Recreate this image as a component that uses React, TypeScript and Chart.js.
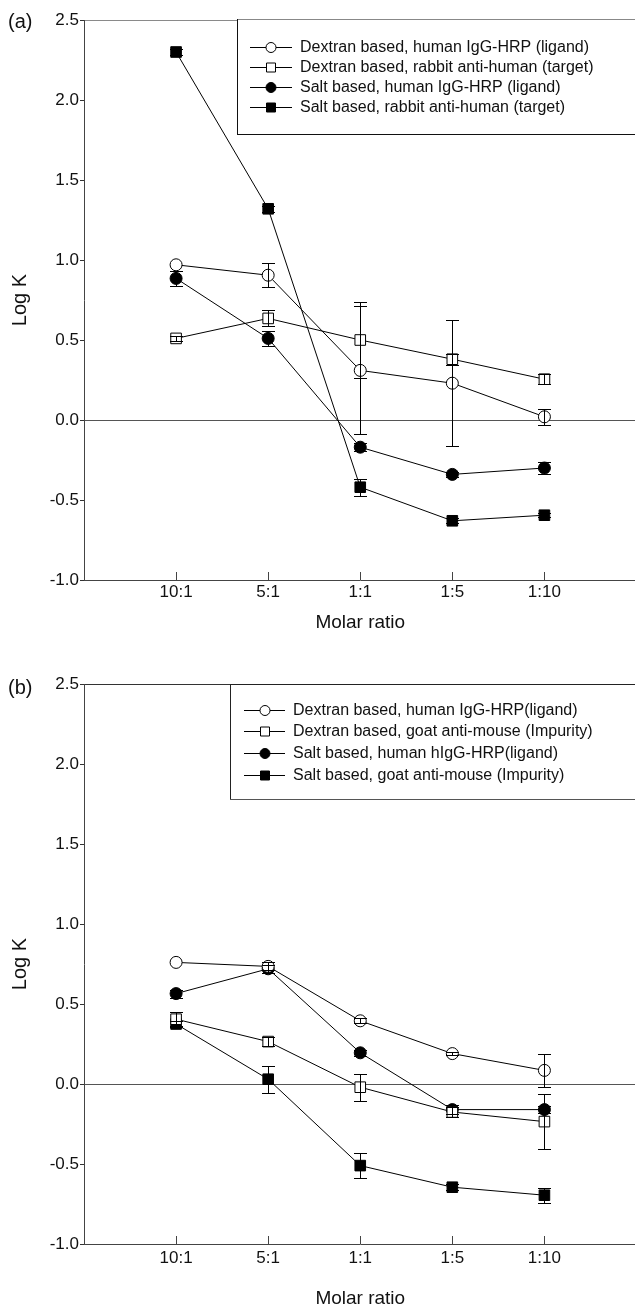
import React, { useEffect, useRef } from 'react';
import { Chart, registerables } from 'chart.js';

Chart.register(...registerables);

// ---------- data ----------
const categories = ['10:1', '5:1', '1:1', '1:5', '1:10'];
const yMin = -1.0;
const yMax = 2.5;
const yStep = 0.5;

// Panel (a)
const labelsA = [
  'Dextran based, human IgG-HRP (ligand)',
  'Dextran based, rabbit anti-human (target)',
  'Salt based, human IgG-HRP (ligand)',
  'Salt based, rabbit anti-human (target)',
];
const dexHumanA = [0.97, 0.905, 0.31, 0.23, 0.02];
const dexHumanAErr = [0, 0.075, 0.4, 0.395, 0.05];
const dexRabbitA = [0.51, 0.635, 0.5, 0.38, 0.255];
const dexRabbitAErr = [0.015, 0.05, 0.24, 0.035, 0.03];
const saltHumanA = [0.885, 0.51, -0.17, -0.34, -0.3];
const saltHumanAErr = [0.048, 0.047, 0.025, 0.015, 0.036];
const saltRabbitA = [2.3, 1.32, -0.42, -0.63, -0.595];
const saltRabbitAErr = [0.02, 0.02, 0.052, 0.015, 0.012];

// Panel (b)
const labelsB = [
  'Dextran based, human IgG-HRP(ligand)',
  'Dextran based, goat anti-mouse (Impurity)',
  'Salt based, human hIgG-HRP(ligand)',
  'Salt based, goat anti-mouse (Impurity)',
];
const dexHumanB = [0.76, 0.735, 0.395, 0.19, 0.085];
const dexHumanBErr = [0, 0.025, 0.015, 0.01, 0.105];
const dexGoatB = [0.405, 0.265, -0.02, -0.175, -0.235];
const dexGoatBErr = [0.045, 0.03, 0.085, 0.03, 0.173];
const saltHumanB = [0.565, 0.72, 0.195, -0.16, -0.16];
const saltHumanBErr = [0.025, 0.025, 0.02, 0.03, 0.02];
const saltGoatB = [0.375, 0.03, -0.51, -0.645, -0.695];
const saltGoatBErr = [0.02, 0.085, 0.08, 0.02, 0.048];

const FONT = '"Liberation Sans", Arial, Helvetica, sans-serif';
const CANVAS_W = 645;

// ---------- plugins ----------
const errorBarPlugin = {
  id: 'errorBars',
  afterDatasetsDraw(chart: any) {
    const { ctx } = chart;
    const xs = chart.scales.x;
    const ys = chart.scales.y;
    ctx.save();
    ctx.strokeStyle = '#000';
    ctx.lineWidth = 1;
    chart.data.datasets.forEach((ds: any) => {
      const errs: number[] = ds.errors;
      if (!errs) return;
      ds.data.forEach((pt: any, i: number) => {
        const e = errs[i];
        if (!e) return;
        const px = Math.round(xs.getPixelForValue(pt.x)) + 0.5;
        const yt = Math.round(ys.getPixelForValue(pt.y + e)) + 0.5;
        const yb = Math.round(ys.getPixelForValue(pt.y - e)) + 0.5;
        const hw = 6.5;
        ctx.beginPath();
        ctx.moveTo(px, yt);
        ctx.lineTo(px, yb);
        ctx.moveTo(px - hw, yt);
        ctx.lineTo(px + hw, yt);
        ctx.moveTo(px - hw, yb);
        ctx.lineTo(px + hw, yb);
        ctx.stroke();
      });
    });
    ctx.restore();
  },
};

const innerTicksPlugin = {
  id: 'innerTicks',
  afterDraw(chart: any) {
    const { ctx, chartArea } = chart;
    const xs = chart.scales.x;
    ctx.save();
    ctx.strokeStyle = '#444';
    ctx.lineWidth = 1;
    xs.ticks.forEach((t: any) => {
      const px = Math.round(xs.getPixelForValue(t.value)) + 0.5;
      ctx.beginPath();
      ctx.moveTo(px, chartArea.bottom);
      ctx.lineTo(px, chartArea.bottom - 8);
      ctx.stroke();
    });
    ctx.restore();
  },
};

const boxLegendPlugin = {
  id: 'boxLegend',
  afterDraw(chart: any, _args: any, opts: any) {
    if (!opts || !opts.rows) return;
    const { ctx } = chart;
    ctx.save();
    const { left, top, right, bottom } = opts;
    ctx.fillStyle = '#fff';
    ctx.fillRect(left, top, right - left, bottom - top);
    ctx.lineWidth = 1;
    ctx.strokeStyle = opts.topColor;
    ctx.beginPath();
    ctx.moveTo(left, top + 0.5);
    ctx.lineTo(right, top + 0.5);
    ctx.stroke();
    ctx.strokeStyle = opts.sideColor;
    ctx.beginPath();
    ctx.moveTo(left + 0.5, top);
    ctx.lineTo(left + 0.5, bottom + 0.5);
    ctx.stroke();
    ctx.strokeStyle = opts.bottomColor;
    ctx.beginPath();
    ctx.moveTo(left, bottom + 0.5);
    ctx.lineTo(right, bottom + 0.5);
    ctx.stroke();

    chart.data.datasets.forEach((ds: any, i: number) => {
      const y = opts.rows[i];
      const yy = Math.round(y) + 0.5;
      ctx.strokeStyle = '#000';
      ctx.beginPath();
      ctx.moveTo(opts.lineX0, yy);
      ctx.lineTo(opts.lineX1, yy);
      ctx.stroke();
      const mx = opts.markerX;
      ctx.fillStyle = ds.pointBackgroundColor;
      ctx.beginPath();
      if (ds.pointStyle === 'circle') {
        ctx.arc(mx, yy, 5, 0, Math.PI * 2);
      } else {
        ctx.rect(mx - 4.5, yy - 4.5, 9, 9);
      }
      ctx.fill();
      ctx.stroke();
      ctx.fillStyle = '#111';
      ctx.font = `16px ${FONT}`;
      ctx.textBaseline = 'middle';
      ctx.textAlign = 'left';
      ctx.fillText(ds.label, opts.textX, y + 1);
    });
    ctx.restore();
  },
};

const panelLabelPlugin = {
  id: 'panelLabel',
  afterDraw(chart: any, _args: any, opts: any) {
    if (!opts || !opts.text) return;
    const { ctx } = chart;
    ctx.save();
    ctx.fillStyle = '#111';
    ctx.font = `20px ${FONT}`;
    ctx.textBaseline = 'middle';
    ctx.textAlign = 'left';
    ctx.fillText(opts.text, opts.x, opts.y);
    ctx.restore();
  },
};

// ---------- config ----------
function makeDatasets(series: number[][], errors: number[][], labels: string[]) {
  const styles = [
    { pointStyle: 'circle', r: 6, fill: '#ffffff' },
    { pointStyle: 'rect', r: 7.5, fill: '#ffffff' },
    { pointStyle: 'circle', r: 6, fill: '#000000' },
    { pointStyle: 'rect', r: 7.5, fill: '#000000' },
  ];
  return series.map((vals, si) => ({
    label: labels[si],
    data: vals.map((v, i) => ({ x: i + 1, y: v })),
    errors: errors[si],
    borderColor: '#000',
    borderWidth: 1,
    backgroundColor: styles[si].fill,
    pointStyle: styles[si].pointStyle,
    pointRadius: styles[si].r,
    pointHoverRadius: styles[si].r,
    pointBackgroundColor: styles[si].fill,
    pointBorderColor: '#000',
    pointBorderWidth: 1,
    tension: 0,
    fill: false,
  }));
}

function makeConfig(p: any) {
  return {
    type: 'line',
    data: { datasets: makeDatasets(p.series, p.errors, p.labels) },
    options: {
      animation: false,
      responsive: false,
      maintainAspectRatio: false,
      events: [],
      layout: { padding: { top: p.padTop, bottom: 0, left: 0, right: 0 } },
      plugins: {
        legend: { display: false },
        tooltip: { enabled: false },
        boxLegend: p.legend,
        panelLabel: p.panel,
      },
      scales: {
        x: {
          type: 'linear',
          min: 0,
          max: categories.length + 1,
          afterBuildTicks: (s: any) => {
            s.ticks = categories.map((_, i) => ({ value: i + 1 }));
          },
          afterFit: (s: any) => {
            s.height = p.xAxisHeight;
          },
          grid: { display: false, drawTicks: false },
          border: { display: true, color: '#444', width: 1 },
          ticks: {
            autoSkip: false,
            maxRotation: 0,
            padding: p.xTickPad,
            color: '#111',
            font: { family: FONT, size: 17 },
            callback: (v: any) => categories[Math.round(v) - 1] ?? '',
          },
          title: {
            display: true,
            text: 'Molar ratio',
            color: '#111',
            font: { family: FONT, size: 19, lineHeight: 1 },
            padding: { top: 0, bottom: p.xTitlePad },
          },
        },
        y: {
          type: 'linear',
          min: yMin,
          max: yMax,
          afterFit: (s: any) => {
            s.width = 84;
          },
          grid: {
            drawOnChartArea: true,
            drawTicks: true,
            tickLength: 4,
            tickColor: '#333',
            color: (c: any) => {
              if (!c.tick) return 'rgba(0,0,0,0)';
              if (Math.abs(c.tick.value) < 1e-9) return '#555';
              if (Math.abs(c.tick.value - yMax) < 1e-9) return p.topColor;
              return 'rgba(0,0,0,0)';
            },
          },
          border: { display: true, color: '#444', width: 1 },
          ticks: {
            stepSize: yStep,
            padding: 1,
            color: '#111',
            font: { family: FONT, size: 17 },
            callback: (v: any) => Number(v).toFixed(1),
          },
          title: {
            display: true,
            text: 'Log K',
            color: '#111',
            font: { family: FONT, size: 20, lineHeight: 1 },
            padding: { top: 10, bottom: 0 },
          },
        },
      },
    },
    plugins: [errorBarPlugin, innerTicksPlugin, boxLegendPlugin, panelLabelPlugin],
  };
}

const panelA = {
  height: 650,
  top: 0,
  padTop: 20,
  xAxisHeight: 70,
  xTickPad: 2,
  xTitlePad: 18,
  topColor: '#8a8a8a',
  series: [dexHumanA, dexRabbitA, saltHumanA, saltRabbitA],
  errors: [dexHumanAErr, dexRabbitAErr, saltHumanAErr, saltRabbitAErr],
  labels: labelsA,
  legend: {
    left: 237, top: 19, right: 645, bottom: 134,
    topColor: '#888', sideColor: '#111', bottomColor: '#111',
    rows: [47, 67, 87, 107], lineX0: 250, lineX1: 292, markerX: 271, textX: 300,
  },
  panel: { text: '(a)', x: 8, y: 22 },
};

const panelB = {
  height: 658,
  top: 650,
  padTop: 34,
  xAxisHeight: 64,
  xTickPad: 4,
  xTitlePad: 0,
  topColor: '#333',
  series: [dexHumanB, dexGoatB, saltHumanB, saltGoatB],
  errors: [dexHumanBErr, dexGoatBErr, saltHumanBErr, saltGoatBErr],
  labels: labelsB,
  legend: {
    left: 230, top: 34, right: 645, bottom: 149,
    topColor: '#222', sideColor: '#222', bottomColor: '#555',
    rows: [60, 81, 103, 125], lineX0: 244, lineX1: 285, markerX: 265, textX: 293,
  },
  panel: { text: '(b)', x: 8, y: 38 },
};

function Panel({ p }: { p: any }) {
  const ref = useRef<HTMLCanvasElement | null>(null);
  useEffect(() => {
    if (!ref.current) return;
    const chart = new Chart(ref.current, makeConfig(p) as any);
    return () => chart.destroy();
  }, [p]);
  return (
    <canvas
      ref={ref}
      width={CANVAS_W}
      height={p.height}
      style={{ position: 'absolute', left: 0, top: p.top, width: CANVAS_W, height: p.height }}
    />
  );
}

export default function App() {
  return (
    <div
      style={{
        position: 'absolute',
        left: 0,
        top: 0,
        width: 635,
        height: 1308,
        overflow: 'hidden',
        background: '#fff',
      }}
    >
      <Panel p={panelA} />
      <Panel p={panelB} />
    </div>
  );
}
